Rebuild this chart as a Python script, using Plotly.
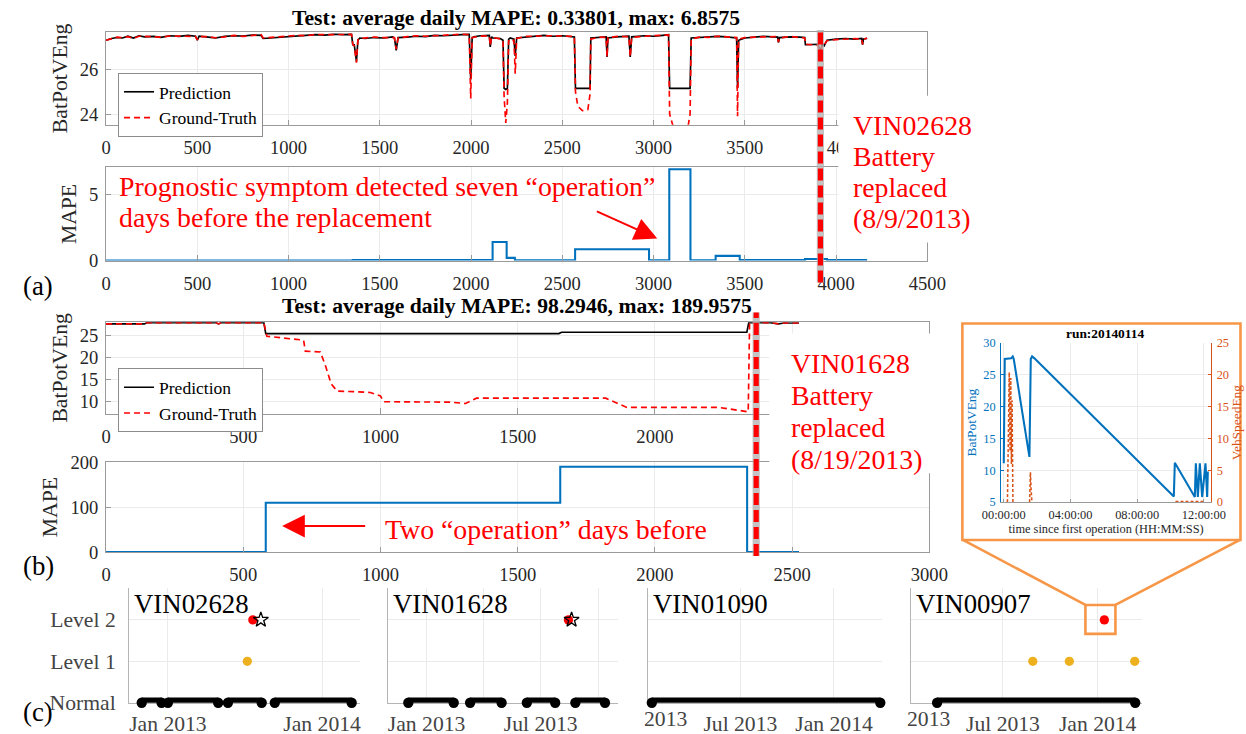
import plotly.graph_objects as go

# Measured page -> picture mapping of the photographing setup: picture = (19, 10) + S * page.
# Positions below are given in picture pixels and converted to figure paper coordinates.
S = 1246 / 1285
OX, OY = 19, 10
FW, FH = 1268, 748
def X(p): return ((p - OX) / S) / FW
def Y(p): return 1 - ((p - OY) / S) / FH
def F(v): return v / S   # pixel sizes (fonts, widths)
def I(v): return int(round(v / S))

SERIF = "Liberation Serif"
TICK = "#262626"
AXLINE = "#9a9a9a"
GRID = "#ebebeb"
RED = "#ff0000"
BLUE = "#0072BD"
ORANGE = "#D95319"
BOX_ORANGE = "#F79646"
GOLD = "#EDB120"

# ---------------- (a) VIN02628 ----------------
a_idx = [0, 30, 60, 90, 120, 150, 180, 210, 260, 300, 350, 400, 450, 490, 500, 510, 560, 600, 650, 700,
         750, 800, 850, 860, 900, 950, 1000, 1050, 1100, 1150, 1200, 1250, 1300, 1345, 1352, 1360, 1372, 1380,
         1390, 1420, 1470, 1520, 1570, 1580, 1590, 1600, 1650, 1700, 1750, 1800, 1850, 1900, 1950, 1990,
         1998, 2006, 2015, 2050, 2100, 2105, 2112, 2120, 2160, 2175, 2181, 2190, 2199, 2206, 2215, 2235,
         2242, 2250, 2300, 2350, 2400, 2450, 2500, 2566, 2572, 2585, 2610, 2640, 2652, 2656, 2700, 2740,
         2745, 2750, 2800, 2865, 2872, 2880, 2950, 3000, 3050, 3082, 3088, 3105, 3150, 3190, 3200, 3206,
         3250, 3300, 3350, 3400, 3455, 3460, 3466, 3500, 3550, 3600, 3680, 3684, 3690, 3750, 3800, 3828,
         3832, 3900, 3915, 3925, 3935, 3950, 4000, 4050, 4100, 4140, 4145, 4150, 4170]
a_pred = [27.30, 27.38, 27.42, 27.40, 27.48, 27.40, 27.50, 27.45, 27.47, 27.43, 27.50, 27.47, 27.52, 27.48, 27.30, 27.48, 27.44, 27.40, 27.47, 27.50,
          27.49, 27.53, 27.52, 27.38, 27.40, 27.43, 27.48, 27.50, 27.52, 27.55, 27.53, 27.57, 27.55, 27.56, 27.10, 27.10, 26.35, 27.30,
          27.40, 27.38, 27.42, 27.40, 27.45, 27.40, 26.85, 27.42, 27.44, 27.48, 27.46, 27.52, 27.50, 27.54, 27.55, 27.56,
          25.55, 27.40, 27.45, 27.50, 27.52, 27.00, 27.45, 27.40, 27.38, 27.30, 25.15, 25.10, 25.15, 27.35, 27.40, 27.35,
          26.60, 27.40, 27.45, 27.50, 27.52, 27.48, 27.50, 27.45, 25.15, 25.15, 25.15, 25.15, 25.15, 27.40, 27.42, 27.45,
          26.55, 27.40, 27.45, 27.48, 26.55, 27.45, 27.50, 27.48, 27.52, 27.55, 25.15, 25.15, 25.15, 25.15, 25.15, 27.40,
          27.42, 27.45, 27.47, 27.45, 27.40, 25.15, 27.30, 27.40, 27.44, 27.47, 27.44, 27.20, 27.42, 27.45, 27.44, 27.42,
          27.10, 27.12, 26.80, 27.15, 27.05, 27.30, 27.35, 27.38, 27.35, 27.38, 27.10, 27.36, 27.38]
a_gt = [27.30, 27.36, 27.44, 27.42, 27.46, 27.38, 27.48, 27.47, 27.45, 27.44, 27.49, 27.48, 27.50, 27.47, 27.32, 27.46, 27.46, 27.41, 27.45, 27.52,
        27.47, 27.52, 27.55, 27.40, 27.42, 27.45, 27.47, 27.52, 27.50, 27.56, 27.55, 27.56, 27.57, 27.56, 27.12, 27.05, 26.30, 27.32,
        27.38, 27.40, 27.44, 27.42, 27.43, 27.42, 26.90, 27.40, 27.46, 27.50, 27.48, 27.50, 27.53, 27.52, 27.57, 27.55,
        24.70, 27.42, 27.43, 27.48, 27.50, 27.05, 27.43, 27.42, 27.36, 27.28, 24.80, 23.60, 24.50, 27.30, 27.20, 27.30,
        25.80, 27.38, 27.47, 27.48, 27.50, 27.50, 27.49, 27.47, 25.00, 24.35, 24.15, 24.20, 24.90, 27.35, 27.44, 27.43,
        26.55, 27.42, 27.47, 27.46, 26.55, 27.43, 27.48, 27.50, 27.50, 27.54, 24.00, 23.50, 23.45, 23.50, 24.00, 27.35,
        27.44, 27.43, 27.48, 27.44, 27.42, 23.90, 27.35, 27.42, 27.42, 27.45, 27.46, 27.22, 27.40, 27.47, 27.42, 27.40,
        27.12, 27.08, 26.75, 27.10, 27.10, 27.28, 27.33, 27.36, 27.37, 27.36, 27.12, 27.34, 27.40]
a_mape_idx = [0, 1352, 2118, 2195, 2240, 2570, 2975, 3086, 3202, 3340, 3472, 3830, 3950, 4170]
a_mape = [0.0, 0.04, 1.40, 0.20, 0.02, 0.85, 0.02, 6.86, 0.02, 0.35, 0.03, 0.12, 0.04, 0.04]
a_replace_idx = 3914
a_title = "Test: average daily MAPE: 0.33801, max: 6.8575"
a_xt = [0, 500, 1000, 1500, 2000, 2500, 3000, 3500, 4000, 4500]
a_xt_top = ["0", "500", "1000", "1500", "2000", "2500", "3000", "3500", "40", ""]

# ---------------- (b) VIN01628 ----------------
b_pred_idx = [0, 140, 150, 400, 410, 420, 575, 582, 1650, 1660, 2335, 2342, 2420, 2450, 2470, 2525]
b_pred = [27.6, 27.6, 27.9, 27.9, 27.6, 27.9, 27.9, 25.4, 25.4, 25.7, 25.7, 27.9, 27.9, 27.6, 27.8, 27.8]
b_gt_idx = [0, 140, 150, 400, 410, 420, 575, 586, 720, 726, 781, 800, 820, 842, 900, 963, 1000, 1011, 1255,
            1310, 1350, 1821, 1898, 2234, 2340, 2345, 2420, 2450, 2470, 2525]
b_gt = [27.6, 27.6, 27.9, 27.9, 27.6, 27.9, 27.9, 24.8, 23.9, 21.4, 21.2, 18.0, 14.0, 12.3, 12.2, 12.0, 11.2, 9.9, 9.8,
        9.5, 10.7, 10.7, 8.6, 8.6, 7.6, 27.9, 27.9, 27.6, 27.8, 27.8]
b_mape_idx = [0, 582, 1655, 2336, 2525]
b_mape = [0.0, 109.5, 190.0, 0.0, 0.0]
b_replace_idx = 2369
b_title = "Test: average daily MAPE: 98.2946, max: 189.9575"
b_xt = [0, 500, 1000, 1500, 2000, 2500, 3000]
b_xt_top = ["0", "500", "1000", "1500", "2000", "", ""]

# ---------------- (c) daily status per vehicle ----------------
c_vins = ["VIN02628", "VIN01628", "VIN01090", "VIN00907"]
c_levels = ["Normal", "Level 1", "Level 2"]
c_normal = [
    [("2012-10-31", "2012-12-17"), ("2013-01-01", "2013-04-30"), ("2013-05-23", "2013-08-11"), ("2013-09-11", "2014-03-12")],
    [("2012-12-03", "2013-02-13"), ("2013-03-11", "2013-04-30"), ("2013-06-09", "2013-07-24"), ("2013-08-25", "2013-10-11")],
    [("2013-01-08", "2014-04-02")],
    [("2013-02-23", "2014-03-15")],
]
c_level1 = [["2013-07-08"], [], [], ["2013-08-28", "2013-11-07", "2014-03-14"]]
c_level2 = [["2013-07-21"], ["2013-08-14"], [], ["2014-01-14"]]
c_replaced = [["2013-08-09"], ["2013-08-19"], [], []]
c_ranges = [["2012-10-01", "2014-04-01"], ["2012-11-01", "2013-11-01"],
            ["2013-01-01", "2014-04-06"], ["2013-01-04", "2014-03-29"]]
c_ticks = [(["2013-01-01", "2014-01-01"], ["Jan 2013", "Jan 2014"]),
           (["2013-01-01", "2013-07-01"], ["Jan 2013", "Jul 2013"]),
           (["2013-01-01", "2013-07-01", "2014-01-01"], ["", "Jul 2013", "Jan 2014"]),
           (["2013-07-01", "2014-01-01"], ["Jul 2013", "Jan 2014"])]

# ---------------- inset: run 20140114 ----------------
inset_title = "run:20140114"
ins_bat_h = [0.00, 0.06, 0.44, 0.54, 0.60, 1.54, 1.62, 1.70, 1.84, 10.20, 10.26, 11.46, 11.52, 11.64, 11.76,
             11.90, 12.10, 12.20, 12.24]
ins_bat = [11.1, 27.5, 27.6, 27.9, 27.5, 12.1, 27.5, 27.9, 27.6, 5.9, 11.2, 5.8, 11.1, 5.8, 11.1,
           5.8, 11.1, 5.8, 9.8]
ins_spd_h = [0.22, 0.28, 0.33, 0.38, 0.42, 0.46, 0.50, 0.55, None, 1.55, 1.60, 1.64, 1.69, None,
             10.3, 10.9, 11.5, 12.1]
ins_spd = [0, 12, 20.4, 8, 19.5, 6, 16, 0, None, 0, 4.7, 2, 0, None, 0.1, 0.1, 0.1, 0.1]
ins_xt = [0, 4, 8, 12]
ins_xt_txt = ["00:00:00", "04:00:00", "08:00:00", "12:00:00"]

fig = go.Figure()

# (a)
fig.add_trace(go.Scatter(x=a_idx, y=a_pred, mode="lines", name="Prediction",
                         line=dict(color="black", width=F(1.6)), xaxis="x", yaxis="y", legend="legend"))
fig.add_trace(go.Scatter(x=a_idx, y=a_gt, mode="lines", name="Ground-Truth",
                         line=dict(color=RED, width=F(1.6), dash="6px,4px"), xaxis="x", yaxis="y", legend="legend"))
fig.add_trace(go.Scatter(x=a_mape_idx, y=a_mape, mode="lines", showlegend=False,
                         line=dict(color=BLUE, width=F(2), shape="hv"), xaxis="x2", yaxis="y2"))
# (b)
fig.add_trace(go.Scatter(x=b_pred_idx, y=b_pred, mode="lines", name="Prediction",
                         line=dict(color="black", width=F(1.6)), xaxis="x3", yaxis="y3", legend="legend2"))
fig.add_trace(go.Scatter(x=b_gt_idx, y=b_gt, mode="lines", name="Ground-Truth",
                         line=dict(color=RED, width=F(1.6), dash="6px,4px"), xaxis="x3", yaxis="y3", legend="legend2"))
fig.add_trace(go.Scatter(x=b_mape_idx, y=b_mape, mode="lines", showlegend=False,
                         line=dict(color=BLUE, width=F(2), shape="hv"), xaxis="x4", yaxis="y4"))

# (c)
c_xdom = [(129, 360), (388, 618), (648, 882), (911, 1142)]
for i in range(4):
    xa = "x%d" % (5 + i)
    ya = "y%d" % (5 + i)
    xs, ys = [], []
    for s, e in c_normal[i]:
        xs += [s, e, None]
        ys += [0, 0, None]
    fig.add_trace(go.Scatter(x=xs, y=ys, mode="lines+markers", showlegend=False, cliponaxis=False,
                             line=dict(color="black", width=F(10)), marker=dict(color="black", size=F(10)),
                             xaxis=xa, yaxis=ya))
    if c_level1[i]:
        fig.add_trace(go.Scatter(x=c_level1[i], y=[1] * len(c_level1[i]), mode="markers", showlegend=False,
                                 cliponaxis=False, marker=dict(color=GOLD, size=F(9)), xaxis=xa, yaxis=ya))
    if c_level2[i]:
        fig.add_trace(go.Scatter(x=c_level2[i], y=[2] * len(c_level2[i]), mode="markers", showlegend=False,
                                 cliponaxis=False, marker=dict(color=RED, size=F(9)), xaxis=xa, yaxis=ya))
    if c_replaced[i]:
        fig.add_trace(go.Scatter(x=c_replaced[i], y=[2] * len(c_replaced[i]), mode="markers", showlegend=False,
                                 cliponaxis=False, marker=dict(color="black", size=F(11), symbol="star-open",
                                                               line=dict(width=1.3)), xaxis=xa, yaxis=ya))

# inset
fig.add_trace(go.Scatter(x=ins_bat_h, y=ins_bat, mode="lines", showlegend=False,
                         line=dict(color=BLUE, width=F(2)), xaxis="x9", yaxis="y9"))
fig.add_trace(go.Scatter(x=ins_spd_h, y=ins_spd, mode="lines", showlegend=False,
                         line=dict(color=ORANGE, width=F(1.5), dash="3px,2px"), xaxis="x9", yaxis="y10"))


def mat_x(dom, rng, tv, tt):
    return dict(domain=[X(dom[0]), X(dom[1])], range=rng, tickvals=tv, ticktext=tt, showline=True,
                linecolor=AXLINE, linewidth=1, mirror=True, ticks="inside", ticklen=F(5), tickcolor=AXLINE,
                showgrid=True, gridcolor=GRID, zeroline=False,
                ticklabelstandoff=I(6), tickfont=dict(family=SERIF, size=F(18), color=TICK))


def mat_y(dom, rng, tickvals, title, anchor):
    return dict(domain=[Y(dom[1]), Y(dom[0])], range=rng, tickvals=tickvals, showline=True,
                linecolor=AXLINE, linewidth=1, mirror=True, ticks="inside", ticklen=F(5), tickcolor=AXLINE,
                showgrid=True, gridcolor=GRID, zeroline=False, anchor=anchor,
                ticklabelstandoff=I(3), tickfont=dict(family=SERIF, size=F(18), color=TICK),
                title=dict(text=title, standoff=F(6), font=dict(family=SERIF, size=F(21), color=TICK)))


legend_style = dict(xanchor="left", yanchor="top", bgcolor="white", bordercolor="#8c8c8c", borderwidth=1,
                    font=dict(family=SERIF, size=F(17), color="black"), tracegroupgap=0, itemwidth=30)
layout = dict(
    width=FW, height=FH, autosize=False, margin=dict(l=0, r=0, t=0, b=0),
    paper_bgcolor="white", plot_bgcolor="rgba(0,0,0,0)",
    font=dict(family=SERIF, color=TICK),
    xaxis=dict(mat_x((106, 927), [0, 4500], a_xt, a_xt_top), anchor="y"),
    yaxis=mat_y((31, 124), [23.52, 27.67], [24, 26], "BatPotVEng", "x"),
    xaxis2=dict(mat_x((106, 927), [0, 4500], a_xt, [str(v) for v in a_xt]), anchor="y2"),
    yaxis2=mat_y((166.7, 260), [0, 7], [0, 5], "MAPE", "x2"),
    xaxis3=dict(mat_x((106, 929), [0, 3000], b_xt, b_xt_top), anchor="y3"),
    yaxis3=mat_y((321.7, 413.3), [7.2, 28], [10, 15, 20, 25], "BatPotVEng", "x3"),
    xaxis4=dict(mat_x((106, 929), [0, 3000], b_xt, [str(v) for v in b_xt]), anchor="y4"),
    yaxis4=mat_y((462, 552), [0, 200], [0, 100, 200], "MAPE", "x4"),
    legend=dict(legend_style, x=X(118), y=Y(72)),
    legend2=dict(legend_style, x=X(118), y=Y(368)),
)

for i in range(4):
    n = 5 + i
    tv, tt = c_ticks[i]
    layout["xaxis%d" % n] = dict(
        domain=[X(c_xdom[i][0]), X(c_xdom[i][1])], type="date", range=c_ranges[i], anchor="y%d" % n,
        tickvals=tv, ticktext=tt, showline=True, linecolor="#b5b5b5", linewidth=1, ticks="",
        showgrid=True, gridcolor=GRID, zeroline=False, layer="below traces",
        ticklabelstandoff=I(1), tickfont=dict(family=SERIF, size=F(21), color="#444444"))
    layout["yaxis%d" % n] = dict(
        domain=[Y(703), Y(588)], range=[0, 2.77], anchor="x%d" % n, tickvals=[0, 1, 2],
        ticktext=c_levels, showticklabels=(i == 0), showline=True, linecolor="#b5b5b5", linewidth=1,
        ticks="", showgrid=True, gridcolor=GRID, zeroline=False, layer="below traces",
        ticklabelstandoff=I(8), tickfont=dict(family=SERIF, size=F(21), color="#444444"))
layout["xaxis6"]["minor"] = dict(tickvals=["2013-04-01", "2013-10-01"], showgrid=True, gridcolor=GRID)

layout["xaxis9"] = dict(domain=[X(1000.7), X(1210.7)], range=[-0.16, 12.44], anchor="y9",
                        tickvals=ins_xt, ticktext=ins_xt_txt, showline=True, linecolor=AXLINE, ticks="inside",
                        ticklen=F(3), tickcolor=AXLINE, showgrid=True, gridcolor=GRID, zeroline=False,
                        ticklabelstandoff=I(1), tickfont=dict(family=SERIF, size=F(12), color=TICK),
                        title=dict(text="time since first operation (HH:MM:SS)", standoff=F(2),
                                   font=dict(family=SERIF, size=F(12), color=TICK)))
layout["yaxis9"] = dict(domain=[Y(502), Y(342.7)], range=[5, 30], dtick=5, anchor="x9", showline=True,
                        linecolor=BLUE, ticks="inside", ticklen=F(3), tickcolor=BLUE, showgrid=True,
                        gridcolor=GRID, zeroline=False, ticklabelstandoff=I(2),
                        tickfont=dict(family=SERIF, size=F(12), color=BLUE),
                        title=dict(text="BatPotVEng", standoff=F(3), font=dict(family=SERIF, size=F(13), color=BLUE)))
layout["yaxis10"] = dict(overlaying="y9", side="right", range=[0, 25], dtick=5, anchor="x9", showline=True,
                         linecolor=ORANGE, ticks="inside", ticklen=F(3), tickcolor=ORANGE, showgrid=False,
                         zeroline=False, ticklabelstandoff=I(2),
                         tickfont=dict(family=SERIF, size=F(12), color=ORANGE),
                         title=dict(text="VehSpeedEng", standoff=F(3), font=dict(family=SERIF, size=F(13), color=ORANGE)))

fig.update_layout(**layout)

# ---------- shapes ----------
shapes = []
shapes.append(dict(type="rect", xref="paper", yref="paper", x0=X(962), x1=X(1240), y0=Y(540), y1=Y(323),
                   fillcolor="white", line=dict(color=BOX_ORANGE, width=F(2.5)), layer="below"))
shapes.append(dict(type="rect", xref="paper", yref="paper", x0=X(838), x1=X(955), y0=Y(242), y1=Y(95),
                   fillcolor="white", line=dict(width=0), layer="above"))
shapes.append(dict(type="rect", xref="paper", yref="paper", x0=X(769), x1=X(955), y0=Y(473), y1=Y(333),
                   fillcolor="white", line=dict(width=0), layer="above"))
for xr, xv, yt, yb in [("x", a_replace_idx, 29, 282), ("x3", b_replace_idx, 312, 556)]:
    shapes.append(dict(type="line", xref=xr, yref="paper", x0=xv, x1=xv, y0=Y(yb), y1=Y(yt),
                       line=dict(color="rgba(175,175,175,0.75)", width=F(7)), layer="above"))
    shapes.append(dict(type="line", xref=xr, yref="paper", x0=xv, x1=xv, y0=Y(yb), y1=Y(yt),
                       line=dict(color=RED, width=F(5), dash="12px,5px"), layer="above"))
shapes.append(dict(type="rect", xref="paper", yref="paper", x0=X(1085), x1=X(1115), y0=Y(634), y1=Y(605),
                   line=dict(color=BOX_ORANGE, width=F(2.5)), layer="above"))
shapes.append(dict(type="line", xref="paper", yref="paper", x0=X(963), y0=Y(540), x1=X(1085), y1=Y(605),
                   line=dict(color=BOX_ORANGE, width=F(2.5)), layer="above"))
shapes.append(dict(type="line", xref="paper", yref="paper", x0=X(1239), y0=Y(540), x1=X(1115), y1=Y(605),
                   line=dict(color=BOX_ORANGE, width=F(2.5)), layer="above"))
fig.update_layout(shapes=shapes)

# ---------- annotations ----------
ann = []
def txt(text, x, y, size, color, xanchor="left", bold=False, yanchor="middle"):
    ann.append(dict(text=("<b>%s</b>" % text) if bold else text, x=X(x), y=Y(y), xref="paper", yref="paper",
                    showarrow=False, xanchor=xanchor, yanchor=yanchor,
                    font=dict(family=SERIF, size=F(size), color=color)))

txt(a_title, 516, 17, 21, "black", xanchor="center", bold=True)
txt(b_title, 517, 306, 21, "black", xanchor="center", bold=True)
for k, line in enumerate(["VIN02628", "Battery", "replaced", "(8/9/2013)"]):
    txt(line, 851, 125 + 31 * k, 27, RED)
for k, line in enumerate(["VIN01628", "Battery", "replaced", "(8/19/2013)"]):
    txt(line, 789, 363 + 32 * k, 27, RED)
txt("Prognostic symptom detected seven “operation”", 117, 186, 27, RED)
txt("days before the replacement", 117, 217, 27, RED)
txt("Two “operation” days before", 383, 529, 27, RED)
txt("(a)", 21, 285, 26, "black")
txt("(b)", 21, 566, 26, "black")
txt("(c)", 21, 712, 26, "black")
for i, v in enumerate(c_vins):
    txt(v, c_xdom[i][0] + 3, 604, 26, "black")
txt("2013", 665, 719, 21, "#444444", xanchor="center")
txt("2013", 928, 719, 21, "#444444", xanchor="center")
txt(inset_title, 1105, 333, 13, "black", xanchor="center", bold=True)
ann.append(dict(x=X(657), y=Y(238), xref="paper", yref="paper", ax=F(-60), ay=F(-27), text="", showarrow=True,
                arrowhead=2, arrowsize=2.2, arrowwidth=F(2), arrowcolor=RED))
ann.append(dict(x=X(282), y=Y(526), xref="paper", yref="paper", ax=F(82), ay=0, text="", showarrow=True,
                arrowhead=2, arrowsize=2.2, arrowwidth=F(2), arrowcolor=RED))
fig.update_layout(annotations=ann)

post = ("document.documentElement.style.margin='0';document.body.style.margin='0';"
        "document.body.style.padding='0';document.body.style.overflow='hidden';")
fig.write_html("out.html", config={"displayModeBar": False}, post_script=post)
